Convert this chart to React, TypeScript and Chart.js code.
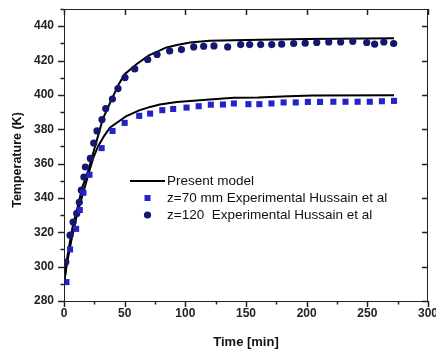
import React, { useEffect, useRef } from "react";
import { Chart, registerables } from "chart.js";

Chart.register(...registerables);

// ---- data ----
const modelUpperT = [0, 3, 7, 11, 15, 20, 24, 28, 32, 39, 45, 50, 60, 70, 84, 93, 104, 120, 150, 200, 272];
const modelUpperK = [290, 307, 323, 334, 346, 356, 366, 376, 386, 397, 406, 412, 418, 423, 427.5, 429, 430.5, 431.5, 432, 432.5, 433];

const modelLowerT = [0, 2, 6, 10, 13, 17, 21, 24, 28, 33, 38, 45, 51, 62, 71, 79, 93, 104, 120, 140, 160, 185, 205, 272];
const modelLowerK = [290, 300, 315, 328, 336, 346, 356, 363, 370, 376, 381, 384.5, 387.5, 391, 393, 394.4, 395.9, 396.5, 397.3, 398.3, 398.5, 399.2, 399.6, 399.8];

const z70T = [2, 5, 10, 13, 16, 21, 31, 40, 50, 62, 71, 81, 90, 101, 111, 121, 131, 140, 152, 161, 171, 181, 191, 201, 211, 222, 232, 242, 252, 262, 272];
const z70K = [291, 310, 322, 333, 343, 353.5, 369, 379, 383.7, 387.8, 389.1, 391.1, 391.8, 392.6, 393.4, 394.3, 394.4, 395, 394.6, 394.6, 395, 395.6, 395.6, 395.9, 395.9, 396, 396, 396, 396, 396.3, 396.5];

const z120T = [1.5, 5, 7.5, 10.5, 12.6, 14.3, 16.4, 17.6, 21.7, 24.5, 27.2, 31.3, 34.4, 39.9, 44.5, 50.3, 58.3, 69, 76.7, 87.1, 96.8, 106.9, 115.1, 123.6, 134.9, 145.6, 153, 162.1, 171.2, 179.4, 189.3, 198.8, 208.3, 218.2, 228, 238, 249.5, 256, 263.6, 271.7];
const z120K = [302.7, 318.3, 326, 331, 337.5, 344.5, 352.2, 358, 363, 372, 379, 385.6, 392, 397.6, 403.7, 410.1, 415.1, 420.6, 423.5, 425.6, 426.4, 427.9, 428.3, 428.5, 427.9, 429.3, 429.3, 429.3, 429.3, 429.5, 429.9, 430.1, 430.5, 430.8, 430.8, 431.2, 430.5, 429.5, 430.8, 429.9];

const xTicks = [0, 50, 100, 150, 200, 250, 300];
const xMinorTicks = [25, 75, 125, 175, 225, 275];
const yTicks = [280, 300, 320, 340, 360, 380, 400, 420, 440];
const yMinorTicks = [290, 310, 330, 350, 370, 390, 410, 430, 450];

const xTitle = "Time [min]";
const yTitle = "Temperature (K)";
const legendLabels = [
  "Present model",
  "z=70 mm Experimental Hussain et al",
  "z=120  Experimental Hussain et al",
];

const squareColor = "#2323c9";
const circleColor = "#15166f";
const axisColor = "#222222";
const fontFamily = '"Liberation Sans", Arial, sans-serif';

const toPts = (xs: number[], ys: number[]) => xs.map((x, i) => ({ x, y: ys[i] }));

const framePlugin = {
  id: "frameAndLegend",
  afterDraw(chart: any) {
    const ctx = chart.ctx;
    const a = chart.chartArea;
    const xs = chart.scales.x;
    const ys = chart.scales.y;
    ctx.save();
    ctx.strokeStyle = axisColor;
    ctx.lineWidth = 1;
    ctx.strokeRect(a.left + 0.5, a.top + 0.5, a.right - a.left - 1, a.bottom - a.top);
    const major = 6;
    const minor = 3.5;
    ctx.beginPath();
    xTicks.forEach((v) => {
      const px = Math.round(xs.getPixelForValue(v)) + 0.5;
      ctx.moveTo(px, a.bottom);
      ctx.lineTo(px, a.bottom + major);
      ctx.moveTo(px, a.top);
      ctx.lineTo(px, a.top + major);
    });
    xMinorTicks.forEach((v) => {
      const px = Math.round(xs.getPixelForValue(v)) + 0.5;
      ctx.moveTo(px, a.bottom);
      ctx.lineTo(px, a.bottom + minor);
    });
    yTicks.forEach((v) => {
      const py = Math.round(ys.getPixelForValue(v)) + 0.5;
      ctx.moveTo(a.left, py);
      ctx.lineTo(a.left - major, py);
      ctx.moveTo(a.right, py);
      ctx.lineTo(a.right - major, py);
    });
    yMinorTicks.forEach((v) => {
      const py = Math.round(ys.getPixelForValue(v)) + 0.5;
      ctx.moveTo(a.left, py);
      ctx.lineTo(a.left - minor, py);
    });
    ctx.lineWidth = 1.5;
    ctx.stroke();

    // y-axis title
    ctx.save();
    ctx.translate(18, (a.top + a.bottom) / 2 + 5);
    ctx.rotate(-Math.PI / 2);
    ctx.font = "bold 12.5px " + fontFamily;
    ctx.fillStyle = "#111111";
    ctx.textAlign = "center";
    ctx.textBaseline = "middle";
    ctx.fillText(yTitle, 0, 0);
    ctx.restore();

    // legend
    const lx = a.left + 66;
    const ly = a.top + 172;
    const rowH = 17;
    const textX = lx + 37;
    ctx.font = "13.5px " + fontFamily;
    ctx.fillStyle = "#111111";
    ctx.textBaseline = "middle";
    ctx.textAlign = "left";
    ctx.strokeStyle = "#000000";
    ctx.lineWidth = 2;
    ctx.beginPath();
    ctx.moveTo(lx, ly);
    ctx.lineTo(lx + 35, ly);
    ctx.stroke();
    ctx.fillText(legendLabels[0], textX, ly);
    ctx.fillStyle = squareColor;
    ctx.fillRect(lx + 14.5, ly + rowH - 3, 6, 6);
    ctx.fillStyle = "#111111";
    ctx.fillText(legendLabels[1], textX, ly + rowH);
    ctx.fillStyle = circleColor;
    ctx.beginPath();
    ctx.arc(lx + 17.5, ly + 2 * rowH, 3.6, 0, Math.PI * 2);
    ctx.fill();
    ctx.fillStyle = "#111111";
    ctx.fillText(legendLabels[2], textX, ly + 2 * rowH);
    ctx.restore();
  },
};

export default function App() {
  const ref = useRef<HTMLCanvasElement | null>(null);
  useEffect(() => {
    document.body.style.margin = "0";
    const canvas = ref.current;
    if (!canvas) return;
    const tickFont = { family: fontFamily, size: 12, weight: "bold" as const };
    const chart = new Chart(canvas, {
      type: "scatter",
      data: {
        datasets: [
          {
            label: legendLabels[1],
            data: toPts(z70T, z70K),
            pointStyle: "rect",
            pointRadius: 4.3,
            backgroundColor: squareColor,
            borderColor: squareColor,
            borderWidth: 0,
            showLine: false,
          },
          {
            label: legendLabels[2],
            data: toPts(z120T, z120K),
            pointStyle: "circle",
            pointRadius: 3.6,
            backgroundColor: circleColor,
            borderColor: circleColor,
            borderWidth: 0,
            showLine: false,
          },
          {
            label: legendLabels[0],
            data: toPts(modelUpperT, modelUpperK),
            showLine: true,
            borderColor: "#000000",
            borderWidth: 2,
            pointRadius: 0,
            tension: 0,
          },
          {
            label: legendLabels[0] + " 2",
            data: toPts(modelLowerT, modelLowerK),
            showLine: true,
            borderColor: "#000000",
            borderWidth: 2,
            pointRadius: 0,
            tension: 0,
          },
        ],
      },
      options: {
        responsive: false,
        animation: false,
        layout: { padding: { top: 9, right: 8, left: 0, bottom: 0 } },
        plugins: { legend: { display: false }, tooltip: { enabled: false } },
        scales: {
          x: {
            type: "linear",
            min: 0,
            max: 300,
            grid: { display: false, drawTicks: false },
            border: { display: false },
            ticks: { font: tickFont, color: axisColor, padding: 5, maxRotation: 0 },
            afterBuildTicks: (s: any) => {
              s.ticks = xTicks.map((v) => ({ value: v }));
            },
            afterFit: (s: any) => {
              s.height = 53;
              s.paddingLeft = 0;
              s.paddingRight = 0;
            },
            title: {
              display: true,
              text: xTitle,
              font: { family: fontFamily, size: 13, weight: "bold" },
              color: "#111111",
              padding: { top: 0, bottom: 4 },
            },
          },
          y: {
            type: "linear",
            min: 280,
            max: 450,
            grid: { display: false, drawTicks: false },
            border: { display: false },
            ticks: { font: tickFont, color: axisColor, padding: 10 },
            afterBuildTicks: (s: any) => {
              s.ticks = yTicks.map((v) => ({ value: v }));
            },
            afterFit: (s: any) => {
              s.width = 64;
              s.paddingTop = 0;
              s.paddingBottom = 0;
            },
            title: { display: false },
          },
        },
      },
      plugins: [framePlugin],
    });
    return () => chart.destroy();
  }, []);
  return (
    <div style={{ width: 436, height: 354, background: "#ffffff" }}>
      <canvas ref={ref} width={436} height={354} style={{ display: "block" }} />
    </div>
  );
}
